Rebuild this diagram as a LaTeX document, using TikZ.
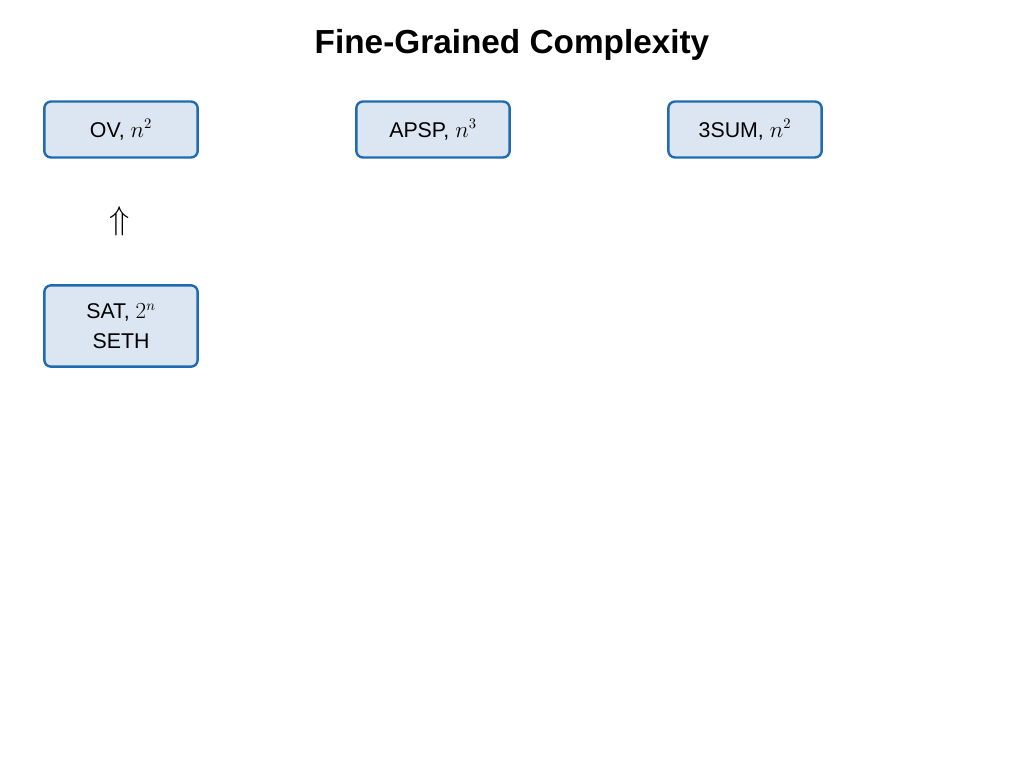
\documentclass[tikz,border=0pt]{standalone}
\usepackage{fontspec}
\setmainfont{Liberation Sans}
\begin{document}
\begin{tikzpicture}[x=0.75pt,y=-0.75pt,
  box/.style={draw=boxline,fill=boxfill,line width=1.8pt,rounded corners=5pt,align=center,font=\fontsize{16}{22}\selectfont}]
\definecolor{boxline}{HTML}{1F6AB0}
\definecolor{boxfill}{HTML}{DCE6F2}
\useasboundingbox (0,0) rectangle (1024,768);
\node[font=\bfseries\fontsize{25}{30}\selectfont] (title) at (512,45) {Fine-Grained Complexity};
\node[box,minimum width=115pt,minimum height=42pt] (ov) at (121,129.5) {OV, $n^2$};
\node[box,minimum width=115pt,minimum height=42pt] (apsp) at (433,129.5) {APSP, $n^3$};
\node[box,minimum width=115pt,minimum height=42pt] (sum) at (745,129.5) {3SUM, $n^2$};
\node[box,minimum width=115pt,minimum height=61pt] (sat) at (121,326) {SAT, $2^n$\\SETH};
\node[font=\fontsize{26}{30}\selectfont] (arr) at (120,221) {$\Uparrow$};
\end{tikzpicture}
\end{document}
